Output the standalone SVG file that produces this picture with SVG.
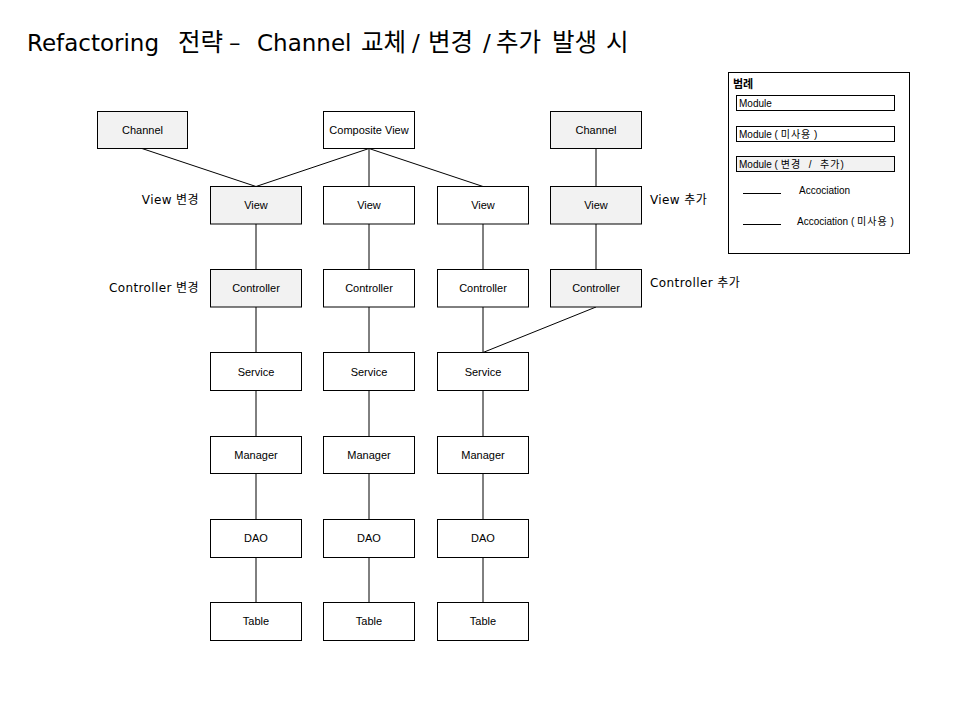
<svg xmlns="http://www.w3.org/2000/svg" width="960" height="720" viewBox="0 0 960 720">
<style>
.n{stroke:#000;stroke-width:1;fill:#fff}
.g{fill:#f2f2f2}
.t{font-family:"Liberation Sans",Arial,sans-serif;font-size:11px;text-anchor:middle;fill:#000}
.lb{font-family:"DejaVu Sans","Noto Sans CJK KR",sans-serif;font-size:12px;fill:#000;letter-spacing:0.4px}
.c line{stroke:#000;stroke-width:1}
.lg{font-family:"Liberation Sans",Arial,"Noto Sans CJK KR",sans-serif;font-size:10px;fill:#000}
.k{letter-spacing:1px}
.tk{font-size:24.5px}
</style>
<rect width="960" height="720" fill="#fff"/>
<text y="51" font-family="DejaVu Sans,'Noto Sans CJK KR',sans-serif" font-size="23" fill="#000"><tspan x="27">Refactoring</tspan><tspan class="tk" x="178">전략</tspan><tspan x="229">–</tspan><tspan x="257">Channel</tspan><tspan class="tk" x="361">교체</tspan><tspan x="412">/</tspan><tspan class="tk" x="428">변경</tspan><tspan x="483">/</tspan><tspan class="tk" x="496">추가</tspan><tspan class="tk" x="552">발생</tspan><tspan class="tk" x="606">시</tspan></text>

<g class="c" id="connectors">
<line x1="142" y1="148.5" x2="256" y2="186.5"/>
<line x1="369" y1="148.5" x2="256" y2="186.5"/>
<line x1="369" y1="148.5" x2="369" y2="186.5"/>
<line x1="369" y1="148.5" x2="483" y2="186.5"/>
<line x1="596" y1="148.5" x2="596" y2="186.5"/>
<line x1="256" y1="224" x2="256" y2="269.5"/>
<line x1="369" y1="224" x2="369" y2="269.5"/>
<line x1="483" y1="224" x2="483" y2="269.5"/>
<line x1="596" y1="224" x2="596" y2="269.5"/>
<line x1="256" y1="307" x2="256" y2="352.5"/>
<line x1="369" y1="307" x2="369" y2="352.5"/>
<line x1="483" y1="307" x2="483" y2="352.5"/>
<line x1="596" y1="307" x2="483" y2="352.5"/>
<line x1="256" y1="390.5" x2="256" y2="436.5"/>
<line x1="369" y1="390.5" x2="369" y2="436.5"/>
<line x1="483" y1="390.5" x2="483" y2="436.5"/>
<line x1="256" y1="473.5" x2="256" y2="519.5"/>
<line x1="369" y1="473.5" x2="369" y2="519.5"/>
<line x1="483" y1="473.5" x2="483" y2="519.5"/>
<line x1="256" y1="557.5" x2="256" y2="602.5"/>
<line x1="369" y1="557.5" x2="369" y2="602.5"/>
<line x1="483" y1="557.5" x2="483" y2="602.5"/>
</g>

<g id="channel1"><rect class="n g" x="97.5" y="111.5" width="90" height="37"/><text class="t" x="142.5" y="134">Channel</text></g>
<g id="composite"><rect class="n" x="323.5" y="111.5" width="91" height="37"/><text class="t" x="369" y="134">Composite View</text></g>
<g id="channel2"><rect class="n g" x="550.5" y="111.5" width="91" height="37"/><text class="t" x="596" y="134">Channel</text></g>

<g id="view1"><rect class="n g" x="210.5" y="186.5" width="91" height="37.5"/><text class="t" x="256" y="209">View</text></g>
<g id="view2"><rect class="n" x="323.5" y="186.5" width="91" height="37.5"/><text class="t" x="369" y="209">View</text></g>
<g id="view3"><rect class="n" x="437.5" y="186.5" width="91" height="37.5"/><text class="t" x="483" y="209">View</text></g>
<g id="view4"><rect class="n g" x="550.5" y="186.5" width="91" height="37.5"/><text class="t" x="596" y="209">View</text></g>

<g id="ctrl1"><rect class="n g" x="210.5" y="269.5" width="91" height="37.5"/><text class="t" x="256" y="292">Controller</text></g>
<g id="ctrl2"><rect class="n" x="323.5" y="269.5" width="91" height="37.5"/><text class="t" x="369" y="292">Controller</text></g>
<g id="ctrl3"><rect class="n" x="437.5" y="269.5" width="91" height="37.5"/><text class="t" x="483" y="292">Controller</text></g>
<g id="ctrl4"><rect class="n g" x="550.5" y="269.5" width="91" height="37.5"/><text class="t" x="596" y="292">Controller</text></g>

<g id="svc1"><rect class="n" x="210.5" y="352.5" width="91" height="38"/><text class="t" x="256" y="376">Service</text></g>
<g id="svc2"><rect class="n" x="323.5" y="352.5" width="91" height="38"/><text class="t" x="369" y="376">Service</text></g>
<g id="svc3"><rect class="n" x="437.5" y="352.5" width="91" height="38"/><text class="t" x="483" y="376">Service</text></g>

<g id="mgr1"><rect class="n" x="210.5" y="436.5" width="91" height="37"/><text class="t" x="256" y="459">Manager</text></g>
<g id="mgr2"><rect class="n" x="323.5" y="436.5" width="91" height="37"/><text class="t" x="369" y="459">Manager</text></g>
<g id="mgr3"><rect class="n" x="437.5" y="436.5" width="91" height="37"/><text class="t" x="483" y="459">Manager</text></g>

<g id="dao1"><rect class="n" x="210.5" y="519.5" width="91" height="38"/><text class="t" x="256" y="542">DAO</text></g>
<g id="dao2"><rect class="n" x="323.5" y="519.5" width="91" height="38"/><text class="t" x="369" y="542">DAO</text></g>
<g id="dao3"><rect class="n" x="437.5" y="519.5" width="91" height="38"/><text class="t" x="483" y="542">DAO</text></g>

<g id="table1"><rect class="n" x="210.5" y="602.5" width="91" height="38"/><text class="t" x="256" y="625">Table</text></g>
<g id="table2"><rect class="n" x="323.5" y="602.5" width="91" height="38"/><text class="t" x="369" y="625">Table</text></g>
<g id="table3"><rect class="n" x="437.5" y="602.5" width="91" height="38"/><text class="t" x="483" y="625">Table</text></g>

<g id="labels">
<text class="lb" x="199" y="204" text-anchor="end">View 변경</text>
<text class="lb" x="199" y="292" text-anchor="end" letter-spacing="0.2">Controller 변경</text>
<text class="lb" x="650" y="204">View 추가</text>
<text class="lb" x="650" y="287" letter-spacing="0.2">Controller 추가</text>
</g>

<g id="legend">
<rect x="728.5" y="72.5" width="181" height="181" fill="#fff" stroke="#000"/>
<text x="733" y="88" font-family="'Noto Sans CJK KR',sans-serif" font-size="11" font-weight="bold">범례</text>
<rect x="736.5" y="95.5" width="158" height="15" fill="#fff" stroke="#000"/>
<text class="lg" x="739" y="107">Module</text>
<rect x="736.5" y="126.5" width="158" height="15" fill="#fff" stroke="#000"/>
<text class="lg" x="739" y="138" xml:space="preserve">Module ( <tspan class="k">미사용</tspan> )</text>
<rect x="736.5" y="156.5" width="158" height="15" fill="#f2f2f2" stroke="#000"/>
<text class="lg" x="739" y="168" xml:space="preserve">Module ( <tspan class="k">변경  /  추가</tspan>)</text>
<line x1="743" y1="193.5" x2="781" y2="193.5" stroke="#000"/>
<text class="lg" x="799" y="194">Accociation</text>
<line x1="743" y1="224.5" x2="781" y2="224.5" stroke="#000"/>
<text class="lg" x="797" y="225" xml:space="preserve">Accociation ( <tspan class="k">미사용</tspan> )</text>
</g>
</svg>
